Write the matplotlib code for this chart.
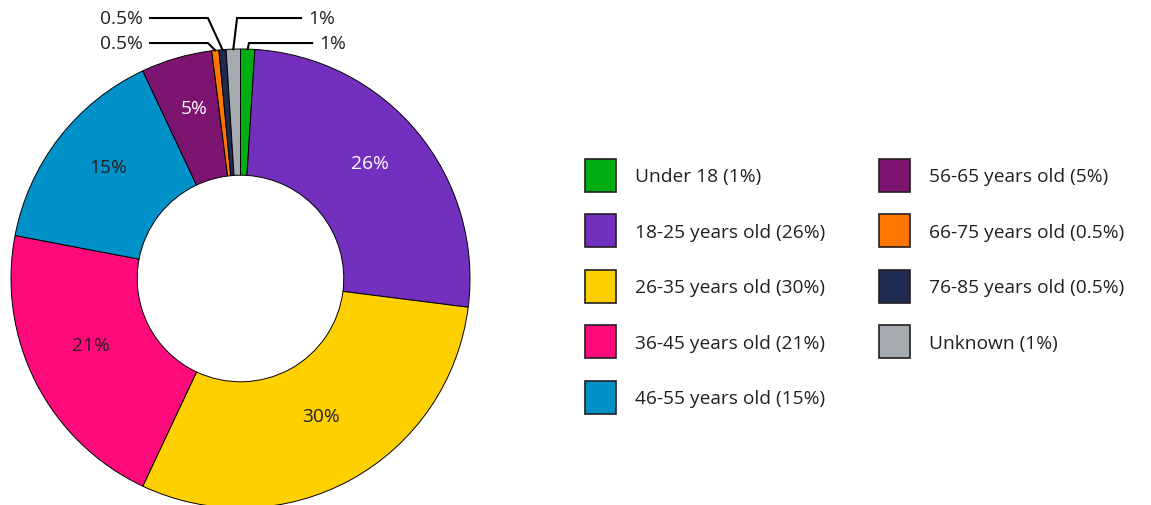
import numpy as np
import matplotlib.pyplot as plt
from matplotlib.patches import Patch

plt.rcParams['font.family'] = ['Open Sans', 'DejaVu Sans']

# data, clockwise from the top
labels = ['Under 18', '18-25 years old', '26-35 years old', '36-45 years old', '46-55 years old',
          '56-65 years old', '66-75 years old', '76-85 years old', 'Unknown']
values = [1, 26, 30, 21, 15, 5, 0.5, 0.5, 1]
pct_text = ['1%', '26%', '30%', '21%', '15%', '5%', '0.5%', '0.5%', '1%']
colors = ['#00AD13', '#7330BE', '#FFD000', '#FF0A7A', '#0091C8', '#7D1470', '#FF7700', '#1F2A52', '#A5ABB0']
inner_color = {1: 'white', 2: '#231F20', 3: '#231F20', 4: '#231F20', 5: 'white'}

TEXT = '#231F20'
FS = 13.8
W, H = 1151, 506
fig = plt.figure(figsize=(W / 100, H / 100), dpi=100)

cx, cy, r = 240.5, 279.5, 229.5
ax = fig.add_axes([(cx - r) / W, (H - cy - r) / H, 2 * r / W, 2 * r / H])
wedges, _ = ax.pie(values, colors=colors, startangle=90, counterclock=False, radius=1,
                   wedgeprops=dict(width=0.55, edgecolor='black', linewidth=0.7))
ax.set_xlim(-1, 1)
ax.set_ylim(-1, 1)
ax.set_aspect('equal')
ax.axis('off')

# labels inside the big wedges (nudged up a little, like the original)
for i, col in inner_color.items():
    w = wedges[i]
    ang = np.deg2rad((w.theta1 + w.theta2) / 2)
    ax.text(0.73 * np.cos(ang), 0.73 * np.sin(ang) + 0.04, pct_text[i], ha='center', va='center',
            fontsize=FS, color=col)

# leader lines for the small wedges: (index, line y, elbow x, line end x, text side)
leaders = [(7, 1.135, -0.142, -0.394, 'left'),
           (6, 1.026, -0.142, -0.394, 'left'),
           (8, 1.135, -0.015, 0.264, 'right'),
           (0, 1.026, 0.037, 0.312, 'right')]
for i, ly, ex, lx, side in leaders:
    w = wedges[i]
    ang = np.deg2rad((w.theta1 + w.theta2) / 2)
    px, py = np.cos(ang), np.sin(ang)
    ax.plot([lx, ex, px], [ly, ly, py], color='black', lw=1.5, clip_on=False,
            solid_joinstyle='miter')
    if side == 'left':
        ax.text(lx - 0.03, ly, pct_text[i], ha='right', va='center', fontsize=FS, color=TEXT)
    else:
        ax.text(lx + 0.03, ly, pct_text[i], ha='left', va='center', fontsize=FS, color=TEXT)

handles = [Patch(facecolor=c, edgecolor='#231F20', linewidth=1.2) for c in colors]
leg_labels = [f'{l} ({p})' for l, p in zip(labels, pct_text)]
leg = fig.legend(handles, leg_labels, ncol=2, loc='upper left', bbox_to_anchor=(585 / W, 1 - 160 / H),
                 frameon=False, fontsize=FS, handlelength=1.62, handleheight=2.27,
                 handletextpad=1.0, labelspacing=1.17, columnspacing=2.77, borderaxespad=0,
                 borderpad=0)
for t in leg.get_texts():
    t.set_color(TEXT)

fig.savefig('out.png', dpi=100)
